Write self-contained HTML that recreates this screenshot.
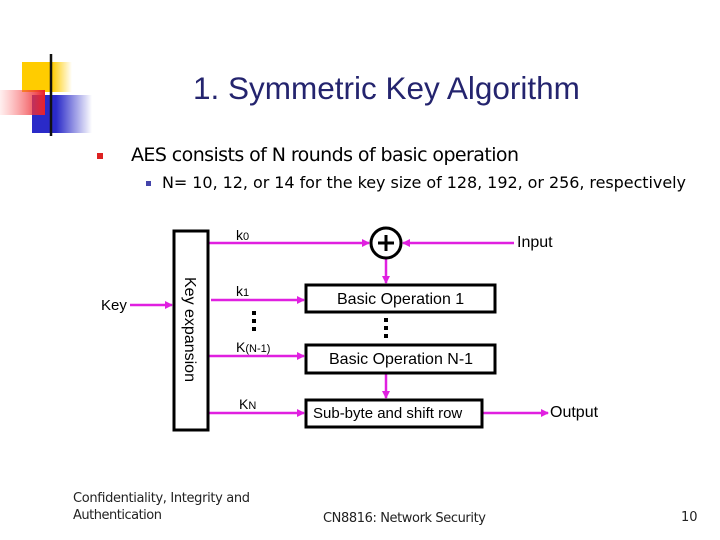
<!DOCTYPE html>
<html><head><style>
body{margin:0;background:#fff;}
svg{display:block;font-family:"Liberation Sans",sans-serif;}
</style></head><body>
<svg width="720" height="540" xmlns="http://www.w3.org/2000/svg">
<defs>
<linearGradient id="yg" x1="0" x2="1"><stop offset="0" stop-color="#fc0"/><stop offset="0.6" stop-color="#fc0"/><stop offset="1" stop-color="#fc0" stop-opacity="0"/></linearGradient>
<linearGradient id="rg" x1="1" x2="0"><stop offset="0" stop-color="#e8202a"/><stop offset="1" stop-color="#f66" stop-opacity="0.1"/></linearGradient>
<linearGradient id="bg" x1="0" x2="1"><stop offset="0" stop-color="#2a2ac8"/><stop offset="0.4" stop-color="#2a2ac8"/><stop offset="1" stop-color="#2a2ac8" stop-opacity="0"/></linearGradient>
<linearGradient id="lg" x1="0" x2="1"><stop offset="0" stop-color="#111"/><stop offset="1" stop-color="#ccc"/></linearGradient>
<marker id="a" markerWidth="8" markerHeight="8" refX="7" refY="4" orient="auto" markerUnits="userSpaceOnUse"><path d="M0,0 L8,4 L0,8 z" fill="#e020e0"/></marker>
</defs>
<rect x="22" y="62" width="50" height="30" fill="url(#yg)"/>
<rect x="32" y="95" width="60" height="38" fill="url(#bg)"/>
<rect x="0" y="90" width="45" height="25" fill="url(#rg)"/>
<line x1="51" y1="54" x2="51" y2="136" stroke="#111" stroke-width="2.5"/>
<line x1="24" y1="117" x2="715" y2="117" stroke="url(#lg)" stroke-width="2"/>
<text x="193" y="99" font-size="31.5" fill="#24246e">1. Symmetric Key Algorithm</text>
<rect x="97" y="153" width="6" height="6" fill="#d22"/>
<text x="131" y="161" font-size="19" fill="#000" font-family="DejaVu Sans,sans-serif" textLength="388">AES consists of  N rounds of basic operation</text>
<rect x="146" y="181" width="5" height="5" fill="#44a"/>
<text x="162" y="188" font-size="16" fill="#000" font-family="DejaVu Sans,sans-serif" textLength="524">N= 10, 12, or 14 for the key size of 128, 192, or 256, respectively</text>

<g stroke="#e020e0" stroke-width="2.5" fill="none">
<line x1="130" y1="305" x2="172" y2="305" marker-end="url(#a)"/>
<line x1="209" y1="243" x2="369" y2="243" marker-end="url(#a)"/>
<line x1="514" y1="243" x2="403" y2="243" marker-end="url(#a)"/>
<line x1="386" y1="259" x2="386" y2="283" marker-end="url(#a)"/>
<line x1="211" y1="300" x2="304" y2="300" marker-end="url(#a)"/>
<line x1="209" y1="356" x2="304" y2="356" marker-end="url(#a)"/>
<line x1="386" y1="373" x2="386" y2="398" marker-end="url(#a)"/>
<line x1="209" y1="413" x2="304" y2="413" marker-end="url(#a)"/>
<line x1="483" y1="413" x2="548" y2="413" marker-end="url(#a)"/>
</g>
<g stroke="#000" stroke-width="3" fill="#fff">
<rect x="174" y="231" width="34" height="199"/>
<circle cx="386" cy="243" r="15"/>
<rect x="306" y="285" width="189" height="27"/>
<rect x="306" y="345" width="189" height="28"/>
<rect x="306" y="400" width="176" height="27"/>
</g>
<path d="M378,243 H394 M386,235 V251" stroke="#000" stroke-width="3"/>
<g fill="#000">
<rect x="252" y="311" width="4" height="4"/><rect x="252" y="319" width="4" height="4"/><rect x="252" y="327" width="4" height="4"/>
<rect x="384" y="318" width="4" height="4"/><rect x="384" y="326" width="4" height="4"/><rect x="384" y="334" width="4" height="4"/>
</g>
<g fill="#000">
<text x="101" y="310" font-size="15">Key</text>
<text transform="translate(185,277) rotate(90)" font-size="16">Key expansion</text>
<text x="236" y="240" font-size="14">k<tspan font-size="11">0</tspan></text>
<text x="236" y="296" font-size="14">k<tspan font-size="11">1</tspan></text>
<text x="236" y="352" font-size="14">K<tspan font-size="11">(N-1)</tspan></text>
<text x="239" y="409" font-size="14">K<tspan font-size="11">N</tspan></text>
<text x="517" y="247" font-size="16">Input</text>
<text x="337" y="304" font-size="16">Basic Operation 1</text>
<text x="329" y="364" font-size="16">Basic Operation N-1</text>
<text x="313" y="418" font-size="15">Sub-byte and shift row</text>
<text x="550" y="417" font-size="16">Output</text>
</g>
<g font-size="13" fill="#222" font-family="DejaVu Sans,sans-serif">
<text x="73" y="502" textLength="177">Confidentiality, Integrity and</text>
<text x="73" y="519" textLength="89">Authentication</text>
<text x="323" y="522" textLength="163">CN8816: Network Security</text>
<text x="681" y="521">10</text>
</g>
</svg>
</body></html>
